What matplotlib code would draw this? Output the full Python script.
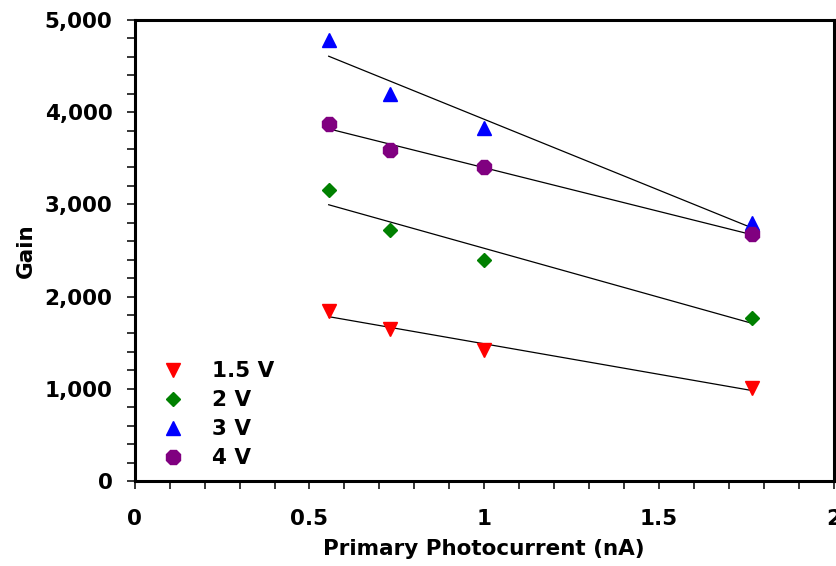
import numpy as np
from matplotlib import pyplot as plt
from matplotlib.ticker import MultipleLocator, FuncFormatter

# primary photocurrent (nA)
current = [0.555, 0.73, 1.0, 1.765]
gain_15v = [1840, 1650, 1420, 1010]
gain_2v = [3150, 2720, 2400, 1770]
gain_3v = [4780, 4200, 3830, 2800]
gain_4v = [3870, 3590, 3400, 2680]

series = [
    ('1.5 V', gain_15v, 'v', 'red', 10),
    ('2 V', gain_2v, 'D', 'green', 7),
    ('3 V', gain_3v, '^', 'blue', 10),
    ('4 V', gain_4v, '8', 'purple', 11),
]

plt.rcParams['font.family'] = ['DejaVu Sans']
plt.rcParams['font.weight'] = 'bold'

fig = plt.figure(figsize=(8.37, 5.66), dpi=100)
ax = fig.add_axes([0.161, 0.150, 0.835, 0.815])

x = np.array(current)
for label, y, mk, col, ms in series:
    ax.plot(x, y, linestyle='none', marker=mk, color=col, markersize=ms,
            label=label, zorder=3)
    k, b = np.polyfit(x, y, 1)
    xx = np.array([x.min(), x.max()])
    ax.plot(xx, k * xx + b, color='black', linewidth=0.9, zorder=2)

ax.set_xlim(0, 2)
ax.set_ylim(0, 5000)
ax.xaxis.set_major_locator(MultipleLocator(0.5))
ax.xaxis.set_minor_locator(MultipleLocator(0.1))
ax.yaxis.set_major_locator(MultipleLocator(1000))
ax.yaxis.set_minor_locator(MultipleLocator(200))
ax.xaxis.set_major_formatter(FuncFormatter(lambda v, p: '%g' % v))
ax.yaxis.set_major_formatter(FuncFormatter(lambda v, p: '{:,.0f}'.format(v)))

for s in ax.spines.values():
    s.set_linewidth(2.2)
ax.tick_params(which='both', direction='out', length=6, width=1.1)
ax.tick_params(axis='x', which='major', labelsize=15.5, pad=14)
ax.tick_params(axis='y', which='major', labelsize=15.5, pad=10)

ax.set_xlabel('Primary Photocurrent (nA)', fontsize=15.5, fontweight='bold',
              labelpad=7)
ax.set_ylabel('Gain', fontsize=15.5, fontweight='bold', labelpad=6)

ax.legend(loc='lower left', bbox_to_anchor=(0.012, -0.005), frameon=False,
          fontsize=15.5, handletextpad=1.1, labelspacing=0.42,
          borderaxespad=0.3, borderpad=0.4, handlelength=1.4)

fig.savefig('out.png', dpi=100)
